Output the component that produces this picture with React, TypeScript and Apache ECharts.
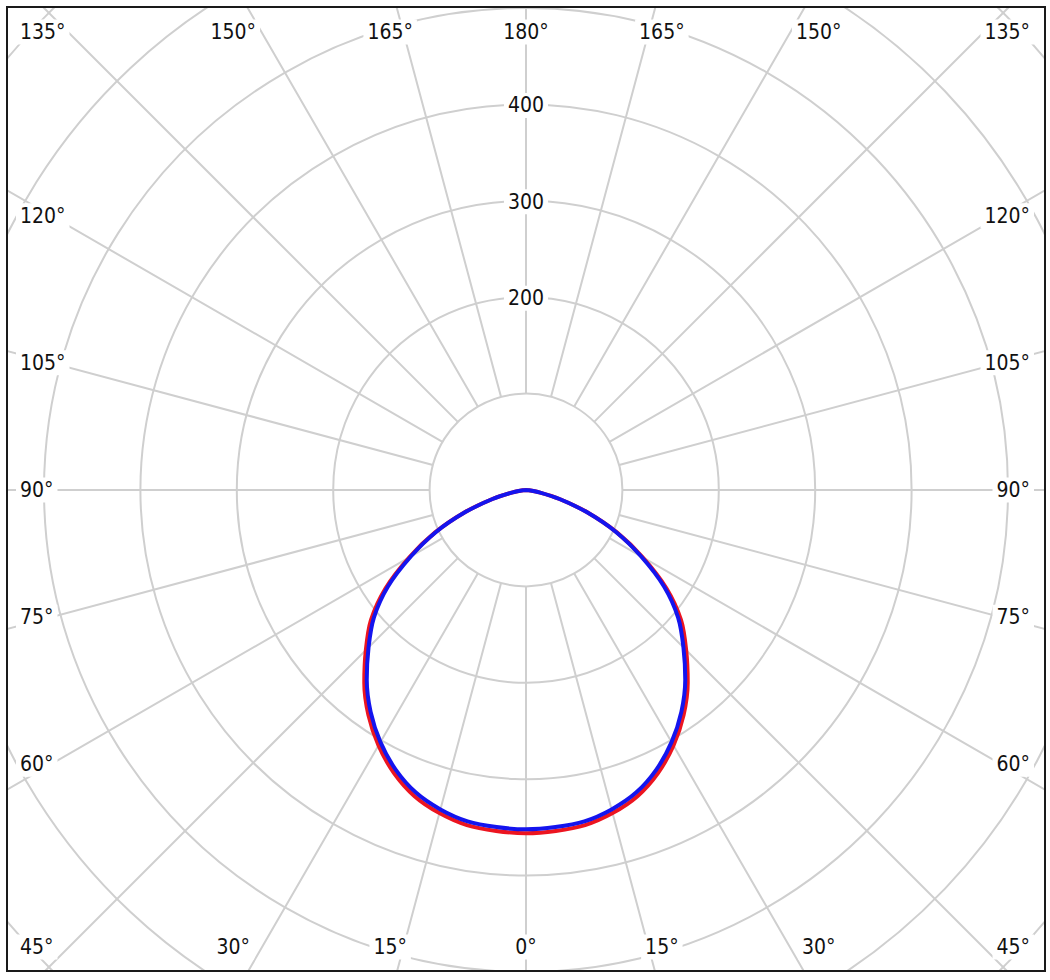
import React, { useEffect, useRef } from "react";
import * as echarts from "echarts";

// Photometric angles (0° = straight down), 5° steps
const GAMMA = [0, 5, 10, 15, 20, 25, 30, 35, 40, 45, 50, 55, 60, 65, 70, 75, 80, 85, 90];
// Luminous intensity, red plane
const RED = [356, 355, 353, 347, 338, 324, 306, 285, 261, 235, 210, 178, 140, 104, 68, 36, 14, 3, 0];
// Luminous intensity, blue plane
const BLUE = [352, 351, 349, 343, 334, 320, 302, 281, 257, 231, 206, 175, 138, 103, 67, 36, 14, 3, 0];
// Radius labels shown on the 180° axis
const RADIUS_LABELS = [200, 300, 400];
// Angle labels around the frame
const ANGLE_LABELS = [0, 15, 30, 45, 60, 75, 90, 105, 120, 135, 150, 165, 180];

const W = 1036;
const H = 962;
const CX = 518;
const CY = 482;
const PX_PER_100 = 96.4;

function toPolarData(vals: number[]) {
  const out: [number, number][] = [];
  // left side: gamma 90 -> 0 (axis angle 180 + gamma)
  for (let i = GAMMA.length - 1; i >= 0; i--) out.push([vals[i], 180 + GAMMA[i]]);
  // right side: gamma 5 -> 90 (axis angle 180 - gamma)
  for (let i = 1; i < GAMMA.length; i++) out.push([vals[i], 180 - GAMMA[i]]);
  return out;
}

export default function App() {
  const ref = useRef<HTMLDivElement>(null);

  useEffect(() => {
    if (!ref.current) return;
    const chart = echarts.init(ref.current, null, { renderer: "svg" });
    const gridColor = "#cfcfcf";
    const hidden = { axisLine: { show: false }, axisTick: { show: false }, axisLabel: { show: false } };
    chart.setOption({
      animation: false,
      backgroundColor: "#ffffff",
      polar: [
        { center: [CX, CY], radius: [0, PX_PER_100 * 8] },
        { center: [CX, CY], radius: [PX_PER_100, PX_PER_100 * 8] },
      ],
      angleAxis: [
        {
          polarIndex: 0,
          type: "value",
          min: 0,
          max: 360,
          interval: 15,
          startAngle: 90,
          clockwise: true,
          ...hidden,
          splitLine: { show: false },
        },
        {
          polarIndex: 1,
          type: "value",
          min: 0,
          max: 360,
          interval: 15,
          startAngle: 90,
          clockwise: true,
          ...hidden,
          splitLine: { show: true, lineStyle: { color: gridColor, width: 2 } },
        },
      ],
      radiusAxis: [
        {
          polarIndex: 0,
          type: "value",
          min: 0,
          max: 800,
          interval: 100,
          ...hidden,
          splitLine: { show: true, lineStyle: { color: gridColor, width: 2 } },
        },
        {
          polarIndex: 1,
          type: "value",
          min: 100,
          max: 800,
          interval: 100,
          ...hidden,
          splitLine: { show: false },
        },
      ],
      series: [
        {
          type: "line",
          coordinateSystem: "polar",
          polarIndex: 0,
          data: toPolarData(RED),
          showSymbol: false,
          smooth: 0.3,
          lineStyle: { color: "#ec1520", width: 4 },
          z: 3,
        },
        {
          type: "line",
          coordinateSystem: "polar",
          polarIndex: 0,
          data: toPolarData(BLUE),
          showSymbol: false,
          smooth: 0.3,
          lineStyle: { color: "#1414ee", width: 4 },
          z: 4,
        },
      ],
    });

    const textBase = {
      fill: "#111111",
      fontSize: 21,
      fontFamily: "'DejaVu Sans Condensed', 'DejaVu Sans', sans-serif",
      backgroundColor: "#ffffff",
      padding: [2, 4],
    };
    const graphics: any[] = [];
    RADIUS_LABELS.forEach((r) => {
      let p = chart.convertToPixel({ polarIndex: 0 } as any, [r, 0]) as any;
      if (!p) p = [CX, CY - (r / 100) * PX_PER_100];
      graphics.push({
        type: "text",
        x: p[0],
        y: p[1] + 1,
        z: 10,
        style: { ...textBase, text: String(r), align: "center", verticalAlign: "middle" },
      });
    });

    const rad = Math.PI / 180;
    const LEFT_X = 8;
    const RIGHT_X = 1026;
    ANGLE_LABELS.forEach((g) => {
      const sides = g === 0 || g === 180 ? [1] : [-1, 1];
      sides.forEach((s) => {
        let x = 0;
        let y = 0;
        let align = "center";
        if (g <= 45) {
          y = 939;
          x = CX + s * 507 * Math.tan(g * rad);
          if (g === 45) {
            x = s < 0 ? LEFT_X : RIGHT_X;
            align = s < 0 ? "left" : "right";
          }
        } else if (g >= 135) {
          y = 24;
          x = CX + s * 507 * Math.tan((180 - g) * rad);
          if (g === 135) {
            x = s < 0 ? LEFT_X : RIGHT_X;
            align = s < 0 ? "left" : "right";
          }
        } else {
          x = s < 0 ? LEFT_X : RIGHT_X;
          align = s < 0 ? "left" : "right";
          y = CY + 475 / Math.tan(g * rad);
        }
        graphics.push({
          type: "text",
          x,
          y,
          z: 10,
          style: { ...textBase, text: g + "°", align, verticalAlign: "middle" },
        });
      });
    });
    chart.setOption({ graphic: graphics });

    return () => chart.dispose();
  }, []);

  return (
    <div
      style={{
        position: "absolute",
        left: 6,
        top: 6,
        width: W + 4,
        height: H + 4,
        border: "2px solid #1a1a1a",
        boxSizing: "border-box",
        background: "#fff",
      }}
    >
      <div ref={ref} style={{ width: W, height: H, overflow: "hidden" }} />
    </div>
  );
}
